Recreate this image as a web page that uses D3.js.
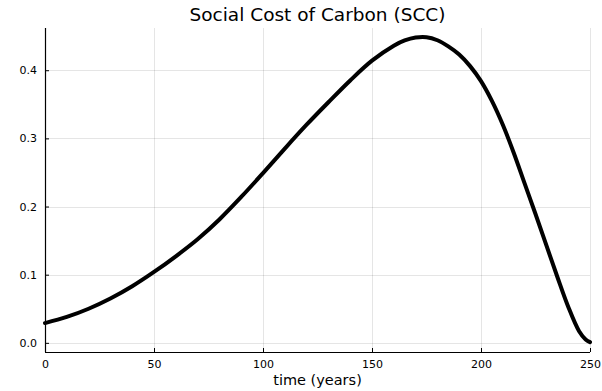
<!DOCTYPE html>
<html>
<head>
<meta charset="utf-8">
<script src="https://cdn.jsdelivr.net/npm/d3@7"></script>
<style>
  html, body { margin: 0; padding: 0; background: #fff; }
  svg { display: block; font-family: "DejaVu Sans", sans-serif; }
</style>
</head>
<body>
<svg id="chart" width="602" height="391"></svg>
<script>
// Social cost of carbon over a 250-year horizon
const years = [0, 10, 20, 30, 40, 50, 60, 70, 80, 90, 100, 110, 120, 130, 140, 150,
  160, 165, 170, 175, 180, 185, 190, 195, 200, 205, 210, 215, 220, 225, 230, 235,
  240, 245, 248, 250];
const scc = [0.029, 0.038, 0.050, 0.065, 0.083, 0.104, 0.127, 0.152, 0.181, 0.214,
  0.249, 0.285, 0.320, 0.353, 0.385, 0.414, 0.436, 0.4437, 0.448, 0.4485, 0.444,
  0.435, 0.423, 0.406, 0.384, 0.355, 0.320, 0.279, 0.234, 0.189, 0.143, 0.097,
  0.053, 0.017, 0.005, 0.001];
const xTicks = [0, 50, 100, 150, 200, 250];
const yTicks = [0.0, 0.1, 0.2, 0.3, 0.4];

const title = "Social Cost of Carbon (SCC)";
const xLabel = "time (years)";

const svg = d3.select("#chart");
const plotL = 45, plotR = 590, plotT = 28, plotB = 352;

// y range padded 3% on each side of the data span
const yMin = 0, yMax = d3.max(scc);
const pad = (yMax - yMin) * 0.03;
const x = d3.scaleLinear().domain([0, 250]).range([plotL, plotR]);
const y = d3.scaleLinear().domain([yMin - pad, yMax + pad]).range([plotB, plotT]);

// grid
const grid = svg.append("g").attr("stroke", "#000").attr("stroke-opacity", 0.1).attr("stroke-width", 1);
grid.selectAll("line.gx").data(xTicks).join("line")
  .attr("x1", d => Math.round(x(d)) + 0.5).attr("x2", d => Math.round(x(d)) + 0.5)
  .attr("y1", plotT).attr("y2", plotB);
grid.selectAll("line.gy").data(yTicks).join("line")
  .attr("y1", d => Math.round(y(d)) + 0.5).attr("y2", d => Math.round(y(d)) + 0.5)
  .attr("x1", plotL).attr("x2", plotR);

// axes with inward ticks
const fmtY = d3.format(".1f");
const xAxis = d3.axisBottom(x).tickValues(xTicks).tickSizeInner(-4).tickSizeOuter(0)
  .tickPadding(8).tickFormat(d3.format("d"));
const yAxis = d3.axisLeft(y).tickValues(yTicks).tickSizeInner(-4).tickSizeOuter(0)
  .tickPadding(8).tickFormat(fmtY);

const gx = svg.append("g").attr("transform", `translate(0,${plotB})`).call(xAxis);
const gy = svg.append("g").attr("transform", `translate(${plotL},0)`).call(yAxis);
[gx, gy].forEach(g => {
  g.select(".domain").attr("stroke", "#000").attr("stroke-width", 1.2);
  g.selectAll(".tick line").attr("stroke", "#000").attr("stroke-width", 1);
  g.selectAll(".tick text").attr("fill", "#000").style("font-size", "11px")
    .style("font-family", "'DejaVu Sans', sans-serif");
});
gy.select(".domain").attr("d", `M0.5,${plotB}V${plotT}`);
gx.select(".domain").attr("d", `M${plotL},0.5H${plotR}`);

// curve
const line = d3.line().x((d, i) => x(years[i])).y(d => y(d)).curve(d3.curveCatmullRom.alpha(0.5));
svg.append("path").datum(scc)
  .attr("d", line)
  .attr("fill", "none")
  .attr("stroke", "#000")
  .attr("stroke-width", 4)
  .attr("stroke-linejoin", "round")
  .attr("stroke-linecap", "round");

// titles
svg.append("text").attr("x", (plotL + plotR) / 2).attr("y", 21)
  .attr("text-anchor", "middle").style("font-size", "18.5px").attr("fill", "#000")
  .text(title);
svg.append("text").attr("x", (plotL + plotR) / 2).attr("y", 385)
  .attr("text-anchor", "middle").style("font-size", "14.5px").attr("fill", "#000")
  .text(xLabel);
</script>
</body>
</html>
